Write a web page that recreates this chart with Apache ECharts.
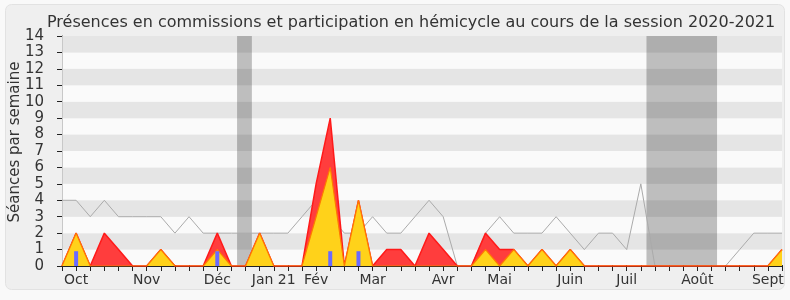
<!DOCTYPE html>
<html><head><meta charset="utf-8">
<script src="https://cdn.jsdelivr.net/npm/echarts@6/dist/echarts.min.js"></script>
<style>html,body{margin:0;padding:0;background:#f9f9f9}#c{width:790px;height:300px}</style>
</head><body><div id="c"></div>
<script>
// Weekly index 0..51 (session 2020-2021)
const monthLabels = {1:'Oct',6:'Nov',11:'Déc',15:'Jan 21',18:'Fév',22:'Mar',27:'Avr',31:'Mai',36:'Juin',40:'Juil',45:'Août',50:'Sept'};
const commission = [0,2,0,2,1,0,0,1,0,0,0,2,0,0,2,0,0,0,5,9,0,4,0,1,1,0,2,1,0,0,2,1,1,0,1,0,1,0,0,0,0,0,0,0,0,0,0,0,0,0,0,1];
const hemicycle  = [0,2,0,0,0,0,0,1,0,0,0,1,0,0,2,0,0,0,3,6,0,4,0,0,0,0,0,0,0,0,1,0,1,0,1,0,1,0,0,0,0,0,0,0,0,0,0,0,0,0,0,1];
const median     = [4,4,3,4,3,3,3,3,2,3,2,2,2,2,2,2,2,3,4,3,2,2,3,2,2,3,4,3,0,0,2,3,2,2,2,3,2,1,2,2,1,5,0,0,0,0,0,0,1,2,2,2];
const questionWeeks = [1,11,19,21];
const questionValues = [0.9,0.9,0.9,0.9];
const vacations = [[12.4,13.45],[41.4,46.4]];
const yTicks = [0,1,2,3,4,5,6,7,8,9,10,11,12,13,14];
const yName = 'Séances par semaine';

const pair = arr => arr.map((v,i)=>[i,v]);
const FONT = '"DejaVu Sans",sans-serif';
const chart = echarts.init(document.getElementById('c'), null, {renderer:'canvas'});
chart.setOption({
  animation:false,
  backgroundColor:'transparent',
  graphic:[
    {type:'rect',z:-10,shape:{x:5.5,y:4.5,width:779,height:285,r:6},style:{fill:'#efefef',stroke:'#e2e2e2',lineWidth:1}},
    {type:'text',x:15,y:142,rotation:Math.PI/2,z:10,
     style:{text:yName,font:'15px "DejaVu Sans", sans-serif',fill:'#333',align:'center',verticalAlign:'middle'}}
  ],
  title:{text:'Présences en commissions et participation en hémicycle au cours de la session 2020-2021',
    left:42, top:10, textStyle:{fontFamily:FONT,fontSize:16,fontWeight:'normal',color:'#333'}},
  grid:{left:62,right:8,top:36,bottom:34,outerBoundsMode:'none',containLabel:false},
  xAxis:[{type:'value',min:0,max:51,interval:1,
    axisLine:{lineStyle:{color:'#222'}},
    axisTick:{length:5,lineStyle:{color:'#222'}},
    splitLine:{show:false},
    axisLabel:{interval:0,showMinLabel:true,showMaxLabel:true,fontFamily:FONT,fontSize:14,color:'#333',margin:7,
      formatter:v=>monthLabels[v]||''}},
   {type:'value',min:0,max:51,interval:1,position:'top',axisLine:{show:false},
    axisTick:{length:1,lineStyle:{color:'#333'}},axisLabel:{show:false},splitLine:{show:false}}],
  yAxis:[{type:'value',min:0,max:14,interval:1,
    axisLine:{show:true,lineStyle:{color:'#222'}},
    axisTick:{show:true,length:5,lineStyle:{color:'#222'}},
    axisLabel:{fontFamily:FONT,fontSize:15,color:'#333',margin:18,formatter:v=>yTicks.includes(v)?String(v):''},
    splitLine:{show:false},
    splitArea:{show:true,areaStyle:{color:['#fafafa','#e5e5e5']}}},
   {type:'value',min:0,max:14,interval:1,position:'right',axisLine:{show:true,lineStyle:{color:'#c8c8c8'}},
    axisTick:{show:false},axisLabel:{show:false},splitLine:{show:false}}],
  series:[
    {type:'line',name:'median',data:pair(median),symbol:'none',z:2,
     lineStyle:{color:'#aaaaaa',width:1},
     markArea:{silent:true,itemStyle:{color:'rgba(0,0,0,0.24)'},
       data:vacations.map(v=>[{xAxis:v[0]},{xAxis:v[1]}])}},
    {type:'line',name:'commission',data:pair(commission),symbol:'none',z:3,
     lineStyle:{color:'#ff1a1a',width:1.5},areaStyle:{color:'#ff3d3d',opacity:1}},
    {type:'line',name:'hemicycle',data:pair(hemicycle),symbol:'none',z:4,
     lineStyle:{color:'#ff7a00',width:1.2},areaStyle:{color:'#ffd21a',opacity:1}},
    {type:'bar',name:'questions',data:questionWeeks.map((w,i)=>[w,questionValues[i]]),barWidth:4,z:5,
     itemStyle:{color:'#6a6aff'}}
  ]
});
</script></body></html>
